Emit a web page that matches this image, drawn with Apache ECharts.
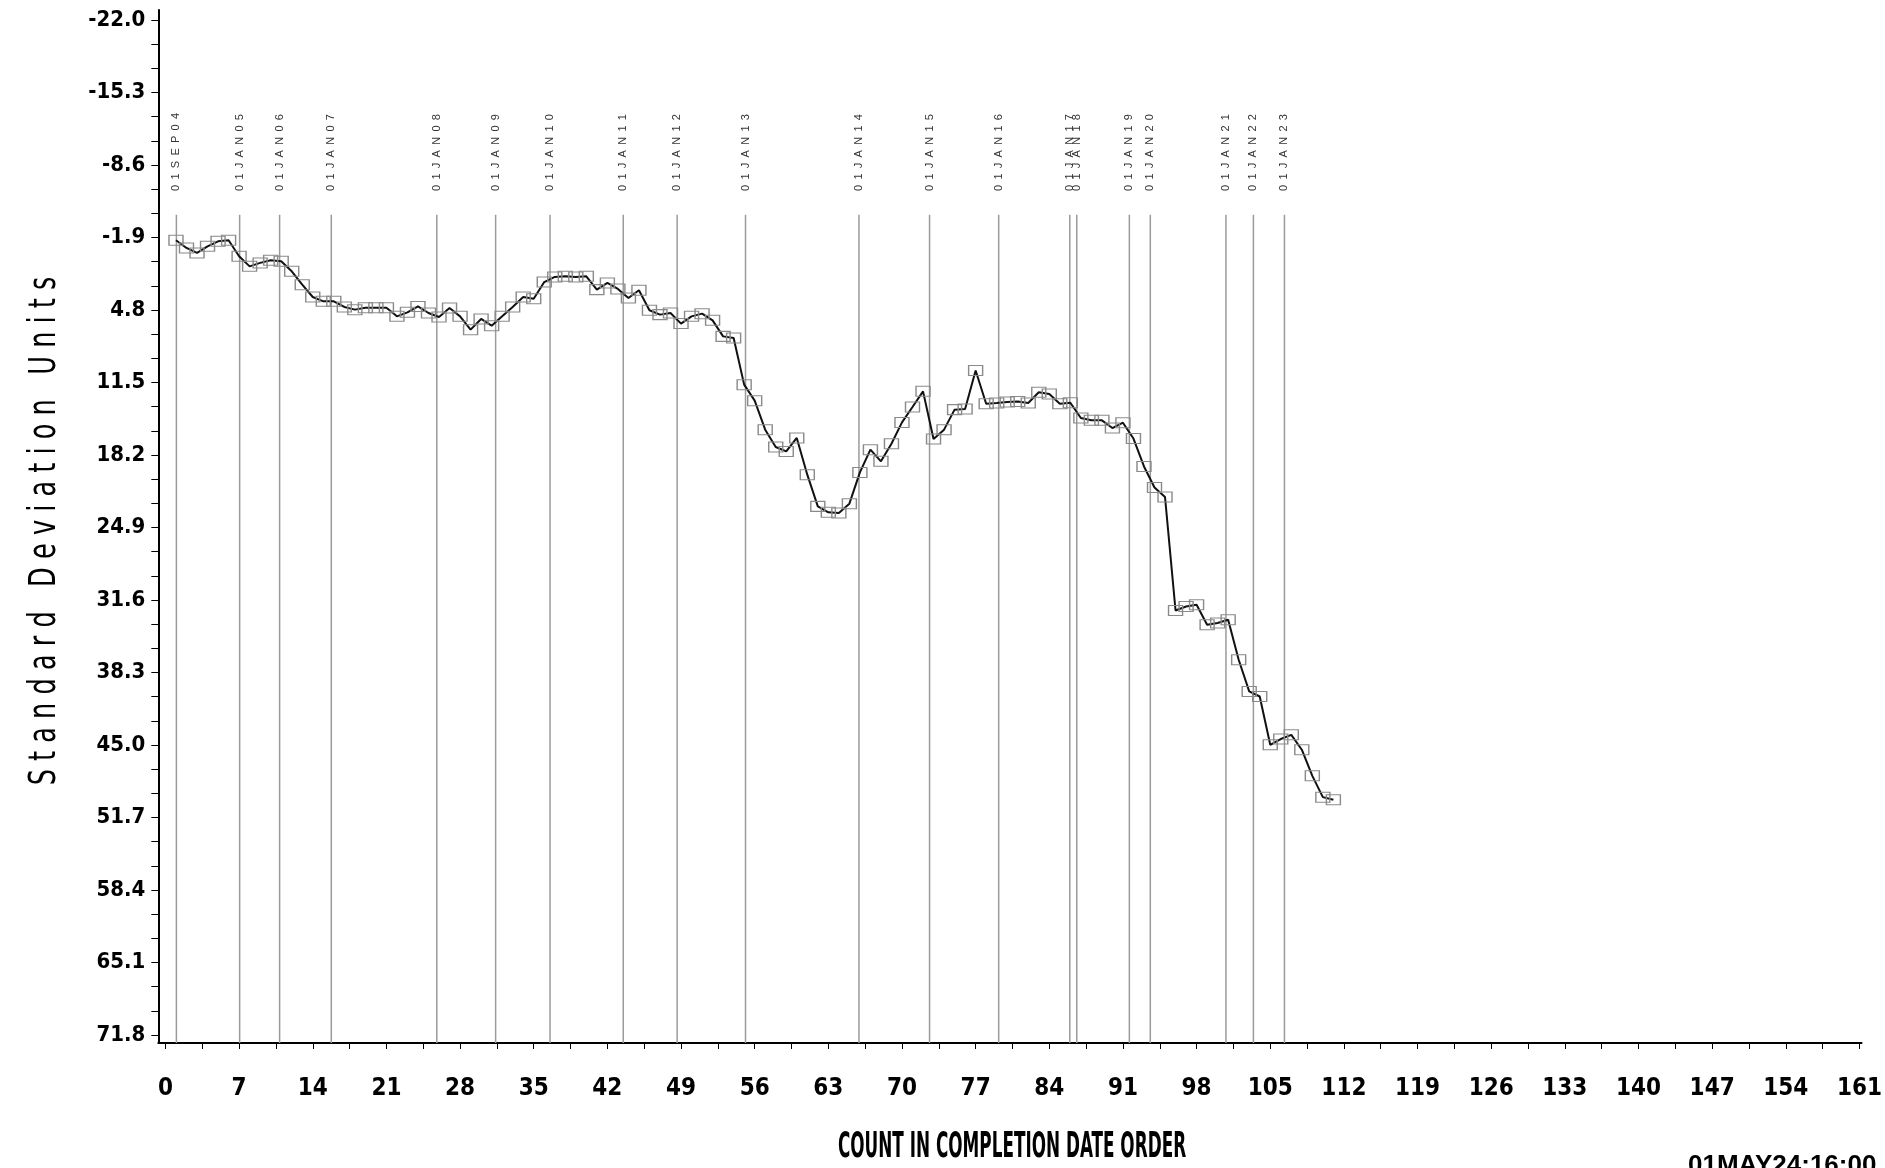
<!DOCTYPE html>
<html><head><meta charset="utf-8">
<script src="https://cdn.jsdelivr.net/npm/echarts@6/dist/echarts.min.js"></script>
<style>html,body{margin:0;padding:0;background:#fff}#chart{width:1885px;height:1168px}</style>
</head><body><div id="chart"></div>
<script>
// ---- data ----
const counts = [1,2,3,4,5,6,7,8,9,10,11,12,13,14,15,16,17,18,19,20,21,22,23,24,25,26,27,28,29,30,
  31,32,33,34,35,36,37,38,39,40,41,42,43,44,45,46,47,48,49,50,51,52,53,54,55,56,57,58,59,60,
  61,62,63,64,65,66,67,68,69,70,71,72,73,74,75,76,77,78,79,80,81,82,83,84,85,86,87,88,89,90,
  91,92,93,94,95,96,97,98,99,100,101,102,103,104,105,106,107,108,109,110,111];
const stdUnits = [-1.64,-0.93,-0.47,-1.08,-1.54,-1.64,-0.16,0.77,0.45,0.21,
  0.30,1.23,2.46,3.60,4.00,4.00,4.52,4.77,4.59,4.59,
  4.59,5.39,5.02,4.47,5.08,5.45,4.62,5.39,6.62,5.63,
  6.25,5.39,4.52,3.60,3.77,2.22,1.75,1.69,1.75,1.69,
  2.92,2.30,2.86,3.69,2.98,4.83,5.23,5.08,6.06,5.39,
  5.14,5.76,7.24,7.39,11.70,13.18,15.86,17.46,17.87,16.63,
  20.02,22.95,23.50,23.56,22.70,19.81,17.71,18.79,17.16,15.19,
  13.77,12.32,16.72,15.86,14.01,13.95,10.40,13.46,13.40,13.30,
  13.25,13.40,12.41,12.56,13.46,13.37,14.78,15.00,15.00,15.71,
  15.22,16.68,19.26,21.20,22.09,32.57,32.20,32.04,33.89,33.73,
  33.43,37.12,40.05,40.52,44.98,44.45,44.06,45.44,47.85,49.82,50.06];
const dateLinePositions = [1.04,7.05,10.85,15.76,25.79,31.38,36.55,43.51,48.63,55.13,
  65.91,72.62,79.19,85.95,86.61,91.61,93.60,100.79,103.40,106.35];
const dateLabels = ['01SEP04','01JAN05','01JAN06','01JAN07','01JAN08','01JAN09','01JAN10',
  '01JAN11','01JAN12','01JAN13','01JAN14','01JAN15','01JAN16','01JAN17','01JAN18',
  '01JAN19','01JAN20','01JAN21','01JAN22','01JAN23'];
const yTickLabels = [-22.0,-15.3,-8.6,-1.9,4.8,11.5,18.2,24.9,31.6,38.3,45.0,51.7,58.4,65.1,71.8];
const xTickLabels = [0,7,14,21,28,35,42,49,56,63,70,77,84,91,98,105,112,119,126,133,140,147,154,161];
const xName = 'COUNT IN COMPLETION DATE ORDER';
const yName = 'Standard Deviation Units';
const footerText = '01MAY24:16:00';

// ---- layout constants (axis extents) ----
const Y_MIN = -22.92, Y_MAX = 72.54, X_MIN = -0.68, X_MAX = 161.2;
const LINE_TOP = -4.0, LABEL_BASE = -6.2;

function withMinor(arr, parts) {
  const out = [];
  for (let i = 0; i < arr.length; i++) {
    out.push(arr[i]);
    if (i < arr.length - 1) {
      for (let k = 1; k < parts; k++) out.push(arr[i] + (arr[i + 1] - arr[i]) * k / parts);
    }
  }
  return out;
}
function spaceLetters(s, sep, wordSep) {
  return s.split(' ').map(w => w.split('').join(sep)).join(wordSep);
}

const narrow = '"Liberation Sans Narrow", "DejaVu Sans Condensed", sans-serif';

const chart = echarts.init(document.getElementById('chart'), null, {renderer: 'canvas'});
chart.setOption({
  animation: false,
  backgroundColor: '#ffffff',
  grid: {left: 158.3, right: 22, top: 10, bottom: 125, containLabel: false},
  xAxis: {
    type: 'value', min: X_MIN, max: X_MAX,
    axisLine: {show: true, onZero: false, lineStyle: {color: '#000', width: 2}},
    axisTick: {show: true, length: 6, lineStyle: {color: '#000', width: 1}, customValues: withMinor(xTickLabels, 2)},
    axisLabel: {show: true, customValues: xTickLabels, margin: 34, fontFamily: narrow, fontWeight: 'bold', fontSize: 24, color: '#000', formatter: v => String(Math.round(v))},
    splitLine: {show: false}
  },
  yAxis: {
    type: 'value', min: Y_MIN, max: Y_MAX, inverse: true,
    axisLine: {show: true, onZero: false, lineStyle: {color: '#000', width: 2}},
    axisTick: {show: true, length: 7, lineStyle: {color: '#000', width: 1}, customValues: withMinor(yTickLabels, 3)},
    axisLabel: {show: true, customValues: yTickLabels, margin: 13, fontFamily: narrow, fontWeight: 'bold', fontSize: 22, color: '#000', formatter: v => v.toFixed(1)},
    splitLine: {show: false}
  },
  graphic: [
    {
      type: 'text', x: 1012, y: 1148, scaleX: 0.52,
      style: {text: xName, font: 'bold 36px "DejaVu Sans Condensed", sans-serif', fill: '#000',
              align: 'center', verticalAlign: 'middle', textAlign: 'center', textVerticalAlign: 'middle'}
    },
    {
      type: 'text', x: 45, y: 531, rotation: Math.PI / 2, scaleX: 0.77,
      style: {text: spaceLetters(yName, ' ', '   '), font: '37px "DejaVu Sans Condensed", sans-serif', fill: '#000',
              align: 'center', verticalAlign: 'middle', textAlign: 'center', textVerticalAlign: 'middle'}
    },
    {
      type: 'text', x: 1688, y: 1153,
      style: {text: footerText, font: 'bold 26px "Liberation Sans", Arial, sans-serif', fill: '#000',
              align: 'left', verticalAlign: 'top', textAlign: 'left', textVerticalAlign: 'top'}
    }
  ],
  series: [
    {
      type: 'custom', z: 1, clip: false, silent: true,
      encode: {x: 0, y: 1},
      data: dateLinePositions.map(x => [x, LINE_TOP]),
      renderItem: function (params, api) {
        const x = api.value(0);
        const top = api.coord([x, LINE_TOP]);
        const bot = api.coord([x, Y_MAX]);
        const lab = api.coord([x, LABEL_BASE]);
        return {
          type: 'group',
          children: [
            {type: 'line', shape: {x1: top[0], y1: top[1], x2: bot[0], y2: bot[1]},
             style: {stroke: '#9b9b9b', lineWidth: 1.5}},
            {type: 'text', x: lab[0], y: lab[1], rotation: Math.PI / 2,
             style: {text: spaceLetters(dateLabels[params.dataIndex], ' \u2009', ' \u2009'),
                     font: '11px "Liberation Sans", Arial, sans-serif', fill: '#333',
                     align: 'left', verticalAlign: 'middle',
                     textAlign: 'left', textVerticalAlign: 'middle'}}
          ]
        };
      }
    },
    {
      type: 'line', z: 3,
      data: counts.map((c, i) => [c, stdUnits[i]]),
      symbol: 'rect', symbolSize: [14, 10], showAllSymbol: true,
      itemStyle: {color: 'rgba(255,255,255,0)', borderColor: '#8a8a8a', borderWidth: 1.2},
      lineStyle: {color: '#111', width: 2},
      emphasis: {disabled: true}
    }
  ]
});
</script>
</body></html>
